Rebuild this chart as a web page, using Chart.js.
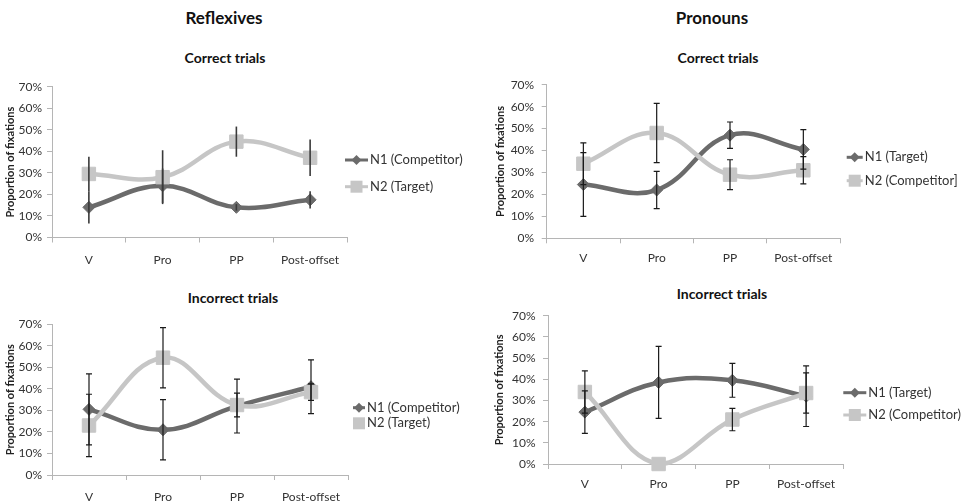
<!DOCTYPE html>
<html>
<head>
<meta charset="utf-8">
<script src="https://cdn.jsdelivr.net/npm/chart.js@4.4.0/dist/chart.umd.min.js"></script>
<style>
body { margin: 0; background: #fff; width: 969px; height: 504px; position: relative; overflow: hidden; font-family: Lato, sans-serif; }
.t { position: absolute; transform: translate(-50%, -50%); font-weight: bold; color: #111; white-space: nowrap; }
.main { font-size: 17px; }
.sub { font-size: 14px; }
canvas { position: absolute; }
</style>
</head>
<body>
<div class="t main" style="left:224px;top:17px">Reflexives</div>
<div class="t main" style="left:712px;top:17px">Pronouns</div>
<div class="t sub" style="left:225px;top:57px">Correct trials</div>
<div class="t sub" style="left:718px;top:57px">Correct trials</div>
<div class="t sub" style="left:233px;top:297px">Incorrect trials</div>
<div class="t sub" style="left:722px;top:293px">Incorrect trials</div>

<canvas id="reflCorrect" width="480" height="200" style="left:0;top:70px"></canvas>
<canvas id="pronCorrect" width="489" height="200" style="left:480px;top:70px"></canvas>
<canvas id="reflIncorrect" width="480" height="199" style="left:0;top:305px"></canvas>
<canvas id="pronIncorrect" width="489" height="204" style="left:480px;top:300px"></canvas>

<script>
// Data (proportion of fixations, %)
const categories = ['V', 'Pro', 'PP', 'Post-offset'];
const yMax = 70;
const yStep = 10;

// Reflexives - correct trials
const reflCorrectN1 = [14, 24, 14, 17.5];
const reflCorrectN1Err = [7.5, 8, 1.5, 4];
const reflCorrectN2 = [29.5, 28, 44.5, 37];
const reflCorrectN2Err = [8, 12.5, 7, 8.5];

// Pronouns - correct trials
const pronCorrectN1 = [24.5, 22, 47, 40.5];
const pronCorrectN1Err = [14.5, 8.5, 6, 9];
const pronCorrectN2 = [34, 48, 29, 31];
const pronCorrectN2Err = [9.5, 13.5, 6.8, 6.2];

// Reflexives - incorrect trials
const reflIncorrectN1 = [30.5, 21, 32, 41];
const reflIncorrectN1Err = [16.5, 14, 12.5, 12.5];
const reflIncorrectN2 = [23, 54.5, 32.5, 38.5];
const reflIncorrectN2Err = [14.5, 14, 5.5, 3.8];

// Pronouns - incorrect trials
const pronIncorrectN1 = [24.5, 38.5, 39.5, 32];
const pronIncorrectN1Err = [10, 17, 8, 14.3];
const pronIncorrectN2 = [34, 0, 21, 33.5];
const pronIncorrectN2Err = [10, 0, 5.3, 9.5];

const DARK = '#6b6b6b';
const LIGHT = '#c6c6c6';
const AXIS = '#b5b5b5';
const TEXT = '#333';

Chart.defaults.font.family = 'Lato, sans-serif';
Chart.defaults.color = TEXT;

// Vertical error bars drawn through the y scale
const errorBars = {
    id: 'errorBars',
    afterDatasetsDraw(chart, args, opts) {
        const ctx = chart.ctx;
        const yScale = chart.scales.y;
        ctx.save();
        ctx.strokeStyle = opts.color;
        ctx.lineWidth = opts.width;
        chart.data.datasets.forEach((ds, di) => {
            const meta = chart.getDatasetMeta(di);
            meta.data.forEach((pt, i) => {
                const e = ds.errors[i];
                if (!e) return;
                const top = yScale.getPixelForValue(ds.data[i] + e);
                const bottom = yScale.getPixelForValue(ds.data[i] - e);
                ctx.beginPath();
                ctx.moveTo(pt.x, top);
                ctx.lineTo(pt.x, bottom);
                if (opts.cap) {
                    ctx.moveTo(pt.x - opts.cap, top);
                    ctx.lineTo(pt.x + opts.cap, top);
                    ctx.moveTo(pt.x - opts.cap, bottom);
                    ctx.lineTo(pt.x + opts.cap, bottom);
                }
                ctx.stroke();
            });
        });
        ctx.restore();
    }
};

// Excel-like legend: line with marker, then label
const lineLegend = {
    id: 'lineLegend',
    afterDraw(chart, args, opts) {
        const ctx = chart.ctx;
        ctx.save();
        chart.data.datasets.forEach((ds, i) => {
            const y = opts.y[i];
            const mx = opts.x + opts.len / 2;
            ctx.strokeStyle = ds.borderColor;
            ctx.fillStyle = ds.borderColor;
            ctx.lineWidth = 3;
            ctx.beginPath();
            ctx.moveTo(opts.x, y);
            ctx.lineTo(opts.x + opts.len, y);
            ctx.stroke();
            ctx.beginPath();
            if (ds.pointStyle === 'rectRot') {
                const r = 5;
                ctx.moveTo(mx - r, y);
                ctx.lineTo(mx, y - r);
                ctx.lineTo(mx + r, y);
                ctx.lineTo(mx, y + r);
                ctx.closePath();
            } else {
                const s = 6;
                ctx.rect(mx - s, y - s, 2 * s, 2 * s);
            }
            ctx.fill();
            ctx.fillStyle = TEXT;
            ctx.font = '13px Lato, sans-serif';
            ctx.textBaseline = 'middle';
            ctx.textAlign = 'left';
            ctx.fillText(ds.label, opts.x + opts.len + 2, y);
        });
        ctx.restore();
    }
};

function makePanel(p) {
    const ctx = document.getElementById(p.id);
    return new Chart(ctx, {
        type: 'line',
        data: {
            labels: categories,
            datasets: [
                {
                    label: p.n1Label,
                    data: p.n1,
                    errors: p.n1Err,
                    borderColor: DARK,
                    backgroundColor: DARK,
                    borderWidth: 4.5,
                    pointStyle: 'rectRot',
                    pointRadius: 6,
                    pointBorderWidth: 1,
                    tension: 0.4,
                    clip: 12,
                    order: 1
                },
                {
                    label: p.n2Label,
                    data: p.n2,
                    errors: p.n2Err,
                    borderColor: LIGHT,
                    backgroundColor: LIGHT,
                    borderWidth: 4.5,
                    pointStyle: 'rect',
                    pointRadius: 9.5,
                    pointBorderWidth: 1,
                    tension: 0.4,
                    clip: 12,
                    order: 0
                }
            ]
        },
        options: {
            responsive: false,
            animation: false,
            layout: { padding: { left: 0, top: p.padTop, right: p.padRight, bottom: p.padBottom } },
            scales: {
                x: {
                    offset: true,
                    grid: { offset: true, drawOnChartArea: false, tickLength: 5, color: AXIS },
                    border: { color: AXIS },
                    ticks: { padding: p.xTickPad, font: { size: 12 } },
                    afterFit(scale) { scale.height = p.xHeight; }
                },
                y: {
                    min: 0,
                    max: yMax,
                    grid: { drawOnChartArea: false, tickLength: 5, color: AXIS },
                    border: { color: AXIS },
                    ticks: {
                        stepSize: yStep,
                        padding: p.yTickPad,
                        font: { size: 12 },
                        callback: v => v + '%'
                    },
                    title: {
                        display: true,
                        text: 'Proportion of fixations',
                        color: '#222',
                        font: { size: 11, weight: 'bold' },
                        padding: { top: p.yTitlePad, bottom: 0 }
                    },
                    afterFit(scale) { scale.width = p.yWidth; }
                }
            },
            plugins: {
                legend: { display: false },
                tooltip: { enabled: false },
                errorBars: { color: p.barColor, width: p.barWidth, cap: p.cap },
                lineLegend: p.legend
            }
        },
        plugins: [errorBars, lineLegend]
    });
}

const panels = [
    {
        id: 'reflCorrect',
        n1Label: 'N1 (Competitor)', n1: reflCorrectN1, n1Err: reflCorrectN1Err,
        n2Label: 'N2 (Target)', n2: reflCorrectN2, n2Err: reflCorrectN2Err,
        padTop: 16.7, padRight: 133, padBottom: 2.5, xHeight: 30, xTickPad: 10,
        yWidth: 52, yTickPad: 5, yTitlePad: 3.4,
        barColor: '#3a3a3a', barWidth: 1.6, cap: 0,
        legend: { x: 345, len: 23, y: [90, 116.7] }
    },
    {
        id: 'pronCorrect',
        n1Label: 'N1 (Target)', n1: pronCorrectN1, n1Err: pronCorrectN1Err,
        n2Label: 'N2 (Competitor]', n2: pronCorrectN2, n2Err: pronCorrectN2Err,
        padTop: 14.3, padRight: 129, padBottom: 1.7, xHeight: 30, xTickPad: 8,
        yWidth: 66.7, yTickPad: 7.5, yTitlePad: 14.1,
        barColor: '#1a1a1a', barWidth: 1.2, cap: 3,
        legend: { x: 366.7, len: 16, y: [87.3, 110.7] }
    },
    {
        id: 'reflIncorrect',
        n1Label: 'N1 (Competitor)', n1: reflIncorrectN1, n1Err: reflIncorrectN1Err,
        n2Label: 'N2 (Target)', n2: reflIncorrectN2, n2Err: reflIncorrectN2Err,
        padTop: 19.3, padRight: 132, padBottom: 2, xHeight: 27, xTickPad: 9.5,
        yWidth: 52, yTickPad: 5, yTitlePad: 3.4,
        barColor: '#1a1a1a', barWidth: 1.2, cap: 3,
        legend: { x: 353, len: 12, y: [102.7, 118.3] }
    },
    {
        id: 'pronIncorrect',
        n1Label: 'N1 (Target)', n1: pronIncorrectN1, n1Err: pronIncorrectN1Err,
        n2Label: 'N2 (Competitor)', n2: pronIncorrectN2, n2Err: pronIncorrectN2Err,
        padTop: 15.7, padRight: 126, padBottom: 10, xHeight: 30, xTickPad: 8,
        yWidth: 68, yTickPad: 7.5, yTitlePad: 12.4,
        barColor: '#1a1a1a', barWidth: 1.2, cap: 3,
        legend: { x: 363.3, len: 23, y: [92.7, 115] }
    }
];

panels.forEach(makePanel);
</script>
</body>
</html>
